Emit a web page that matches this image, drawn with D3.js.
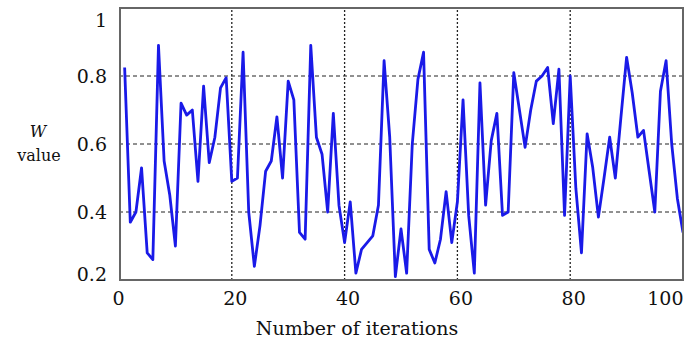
<!DOCTYPE html>
<html lang="en">
<head>
	<meta charset="UTF-8">
	<title>W value vs iterations</title>
	<style>
		html, body {
			margin: 0;
			background: #fff;
		}
		svg text {
			font-family: 'DejaVu Serif', 'Liberation Serif', serif;
			fill: #111;
		}
	</style>
	<script src="https://d3js.org/d3.v7.min.js"></script>
</head>
<body>
	<svg id="container"></svg>
	<script>
		// W value, one value per iteration (1..100)
		const wValues = [
			0.825, 0.37, 0.40, 0.53, 0.28, 0.26, 0.89, 0.55, 0.45, 0.30,
			0.72, 0.685, 0.70, 0.49, 0.77, 0.545, 0.62, 0.765, 0.795, 0.49,
			0.50, 0.87, 0.40, 0.24, 0.36, 0.52, 0.55, 0.68, 0.50, 0.785,
			0.73, 0.34, 0.32, 0.89, 0.62, 0.57, 0.40, 0.69, 0.42, 0.31,
			0.43, 0.22, 0.29, 0.31, 0.33, 0.42, 0.845, 0.62, 0.21, 0.35,
			0.22, 0.60, 0.79, 0.87, 0.29, 0.25, 0.32, 0.46, 0.31, 0.43,
			0.73, 0.39, 0.22, 0.78, 0.42, 0.61, 0.69, 0.39, 0.40, 0.81,
			0.70, 0.59, 0.70, 0.785, 0.80, 0.825, 0.66, 0.82, 0.39, 0.80,
			0.47, 0.28, 0.63, 0.53, 0.385, 0.50, 0.62, 0.50, 0.68, 0.855,
			0.75, 0.62, 0.64, 0.52, 0.40, 0.755, 0.845, 0.60, 0.44, 0.34
		];
		const iterations = wValues.map((d, i) => i + 1);

		const xTicks = [0, 20, 40, 60, 80, 100];
		const yTicks = [0.2, 0.4, 0.6, 0.8, 1];
		const xLabel = 'Number of iterations';
		const yLabel = ['W', 'value'];

		const width = 684, height = 347;
		const margin = { top: 8, right: 1, bottom: 67, left: 119 };

		const svg = d3.select('#container')
			.attr('width', width)
			.attr('height', height);

		const x = d3.scaleLinear().domain([0, 100]).range([margin.left, width - margin.right]);
		const y = d3.scaleLinear().domain([0.2, 1]).range([height - margin.bottom, margin.top]);

		// grid
		svg.append('g')
			.selectAll('line')
			.data(yTicks.filter(d => d > 0.2 && d < 1))
			.join('line')
			.attr('x1', x(0)).attr('x2', x(100))
			.attr('y1', d => y(d)).attr('y2', d => y(d))
			.attr('stroke', '#222')
			.attr('stroke-width', 1)
			.attr('stroke-dasharray', '4,3');

		svg.append('g')
			.selectAll('line')
			.data(xTicks.filter(d => d > 0 && d < 100))
			.join('line')
			.attr('x1', d => x(d)).attr('x2', d => x(d))
			.attr('y1', y(0.2)).attr('y2', y(1))
			.attr('stroke', '#222')
			.attr('stroke-width', 1.3)
			.attr('stroke-dasharray', '2,2');

		// data line
		const line = d3.line()
			.x((d, i) => x(iterations[i]))
			.y(d => y(d));

		svg.append('path')
			.datum(wValues)
			.attr('d', line)
			.attr('fill', 'none')
			.attr('stroke', '#1a1ae8')
			.attr('stroke-width', 2.8)
			.attr('stroke-linejoin', 'round');

		// frame
		svg.append('rect')
			.attr('x', x(0) + 1)
			.attr('y', y(1))
			.attr('width', x(100) - x(0) - 1)
			.attr('height', y(0.2) - y(1))
			.attr('fill', 'none')
			.attr('stroke', '#666')
			.attr('stroke-width', 2);

		// axes labels
		const xAxis = d3.axisBottom(x).tickValues(xTicks).tickSize(0).tickPadding(9).tickFormat(d3.format('d'));
		svg.append('g')
			.attr('transform', `translate(0,${y(0.2) + 3})`)
			.call(xAxis)
			.call(g => g.select('.domain').remove())
			.call(g => g.selectAll('text')
				.attr('font-size', 19)
				.attr('font-family', null)
				.attr('text-anchor', d => d === 100 ? 'end' : 'middle')
				.attr('dx', d => d === 100 ? 0 : d === 0 ? -1 : 3));

		const yAxis = d3.axisLeft(y).tickValues(yTicks).tickSize(0).tickPadding(12).tickFormat(d => d === 1 ? '1' : d3.format('.1f')(d));
		svg.append('g')
			.attr('transform', `translate(${x(0)},0)`)
			.call(yAxis)
			.call(g => g.select('.domain').remove())
			.call(g => g.selectAll('text')
				.attr('font-size', 19)
				.attr('font-family', null)
				.attr('dy', d => d === 1 ? '0.95em' : d === 0.2 ? '0.0em' : '0.32em'));

		svg.append('text')
			.attr('x', 357)
			.attr('y', 335)
			.attr('text-anchor', 'middle')
			.attr('font-size', 19)
			.text(xLabel);

		svg.append('text')
			.attr('x', 38)
			.attr('y', 137)
			.attr('text-anchor', 'middle')
			.attr('font-size', 16)
			.attr('font-style', 'italic')
			.text(yLabel[0]);

		svg.append('text')
			.attr('x', 39)
			.attr('y', 161)
			.attr('text-anchor', 'middle')
			.attr('font-size', 16)
			.text(yLabel[1]);
	</script>
</body>
</html>
